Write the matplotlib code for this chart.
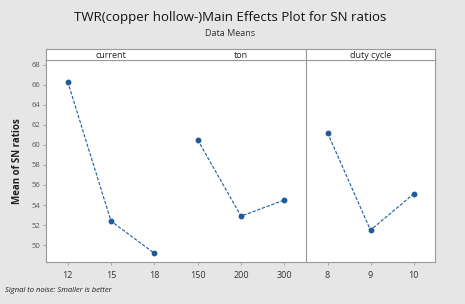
import matplotlib
matplotlib.use("Agg")
import matplotlib.pyplot as plt

# factor levels and mean SN ratios
current_levels = ["12", "15", "18"]
current_sn = [66.3, 52.4, 49.2]
ton_levels = ["150", "200", "300"]
ton_sn = [60.5, 52.9, 54.5]
duty_levels = ["8", "9", "10"]
duty_sn = [61.2, 51.5, 55.1]
y_ticks = [50, 52, 54, 56, 58, 60, 62, 64, 66, 68]

plt.rcParams["font.family"] = ["Open Sans", "DejaVu Sans"]
BG = "#e6e6e6"
LINE = "#1f5a9a"
SPINE = "#9a9a9a"
W, H = 465, 304

fig = plt.figure(figsize=(W / 100, H / 100), dpi=100, facecolor=BG)


def box(x0, y0, x1, y1):
    # pixel box (top-left origin) -> figure fraction rect
    return [x0 / W, 1 - y1 / H, (x1 - x0) / W, (y1 - y0) / H]


ax1 = fig.add_axes(box(46, 60, 306, 262))
ax2 = fig.add_axes(box(306, 60, 435, 262))
YLIM = (48.33, 68.45)

for ax in (ax1, ax2):
    ax.set_ylim(*YLIM)
    for s in ax.spines.values():
        s.set_color(SPINE)
        s.set_linewidth(0.8)
    ax.tick_params(axis="both", colors=SPINE, length=2.5, width=0.6,
                   labelcolor="#333333")
    ax.tick_params(axis="x", labelsize=6.5, pad=4)

# current + ton share one panel
pos_c = [0, 1, 2]
pos_t = [3, 4, 5]
style = dict(color=LINE, ls=(0, (3, 1.5)), lw=0.8, marker="o", ms=3.2)
ax1.plot(pos_c, current_sn, **style)
ax1.plot(pos_t, ton_sn, **style)
ax1.set_xlim(-0.5, 5.5)
ax1.set_xticks(pos_c + pos_t)
ax1.set_xticklabels(current_levels + ton_levels)
ax1.set_yticks(y_ticks)
ax1.tick_params(axis="y", labelsize=5.5, pad=1.5, labelcolor="#555555")
ax1.spines["right"].set_visible(False)

pos_d = [0, 1, 2]
ax2.plot(pos_d, duty_sn, **style)
ax2.set_xlim(-0.5, 2.5)
ax2.set_xticks(pos_d)
ax2.set_xticklabels(duty_levels)
ax2.set_yticks([])

ax1.set_ylabel("Mean of SN ratios", fontsize=7, fontweight="bold",
               color="#222222", labelpad=6)

# header strips
h1 = fig.add_axes(box(46, 49, 306, 60))
h2 = fig.add_axes(box(306, 49, 435, 60))
for h in (h1, h2):
    h.set_xticks([])
    h.set_yticks([])
    h.set_facecolor("white")
    for s in h.spines.values():
        s.set_color(SPINE)
        s.set_linewidth(0.8)
h1.set_xlim(-0.5, 5.5)
h2.set_xlim(-0.5, 2.5)
h1.text(1, 0.45, "current", ha="center", va="center", fontsize=6.5,
        color="#222222", transform=h1.get_xaxis_transform())
h1.text(4, 0.45, "ton", ha="center", va="center", fontsize=6.5,
        color="#222222", transform=h1.get_xaxis_transform())
h2.text(1, 0.45, "duty cycle", ha="center", va="center", fontsize=6.5,
        color="#222222", transform=h2.get_xaxis_transform())

fig.text(230 / W, 1 - 18 / H,
         "TWR(copper hollow-)Main Effects Plot for SN ratios",
         ha="center", va="center", fontsize=9.5, color="#111111")
fig.text(230 / W, 1 - 33 / H, "Data Means", ha="center", va="center",
         fontsize=6.5, color="#333333")
fig.text(5 / W, 1 - 290 / H, "Signal to noise: Smaller is better",
         ha="left", va="center", fontsize=5.5, style="italic",
         color="#222222")

fig.savefig("out.png", dpi=100, facecolor=BG)
